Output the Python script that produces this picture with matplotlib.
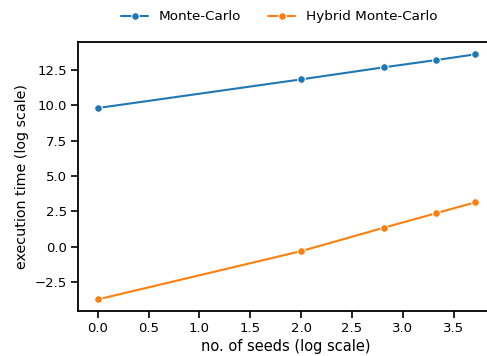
import matplotlib
matplotlib.use("Agg")
import matplotlib.pyplot as plt
import seaborn as sns

# log10 of number of seeds
seeds_log = [0.0, 2.0, 2.81, 3.33, 3.71]
mc_time = [9.81, 11.84, 12.69, 13.21, 13.61]
hmc_time = [-3.74, -0.32, 1.33, 2.37, 3.13]

sns.set_style("ticks")
plt.rcParams["font.family"] = ["DejaVu Sans"]
plt.rcParams["text.color"] = "black"
plt.rcParams["axes.labelcolor"] = "black"
plt.rcParams["xtick.color"] = "black"
plt.rcParams["ytick.color"] = "black"

fig = plt.figure(figsize=(4.87, 3.56), dpi=100)
ax = fig.add_axes([0.161, 0.126, 0.85, 0.755])

ax.plot(seeds_log, mc_time, marker="o", color="#1f77b4", markersize=5.5,
        markeredgecolor="white", markeredgewidth=0.75, lw=1.5, label="Monte-Carlo")
ax.plot(seeds_log, hmc_time, marker="o", color="#ff7f0e", markersize=5.5,
        markeredgecolor="white", markeredgewidth=0.75, lw=1.5, label="Hybrid Monte-Carlo")

ax.set_xlim(-0.19, 3.88)
ax.set_ylim(-4.57, 14.46)
ax.set_yticks([-2.5, 0.0, 2.5, 5.0, 7.5, 10.0, 12.5])
ax.set_xlabel("no. of seeds (log scale)", fontsize=10.5, labelpad=3)
ax.set_ylabel("execution time (log scale)", fontsize=10.3, labelpad=4)
ax.tick_params(labelsize=9.5, length=5, width=1.2, pad=3)
for s in ax.spines.values():
    s.set_linewidth(1.3)
    s.set_color("black")
ax.spines["right"].set_visible(False)

ax.legend(loc="center", bbox_to_anchor=(0.485, 1.095), ncol=2, frameon=False,
          fontsize=9.7, handlelength=2.0, columnspacing=2.0)

fig.savefig("out.png", dpi=100)
